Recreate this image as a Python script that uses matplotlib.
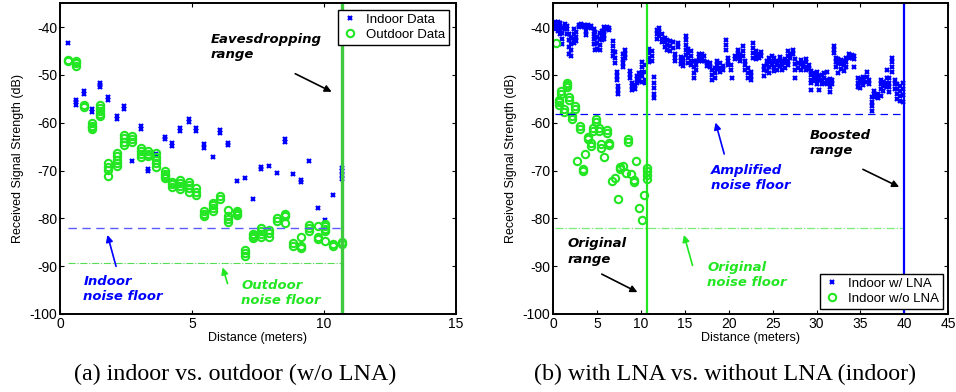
import matplotlib
matplotlib.use('Agg')
import matplotlib.pyplot as plt

plt.rcParams['font.family'] = ['Liberation Sans', 'DejaVu Sans']
plt.rcParams['axes.unicode_minus'] = False

# (distance m, [rss dB ...]) per measurement spot
indoor = [
    (0.32, [-43.4]), (0.62, [-55.2, -55.7, -56.3]), (0.92, [-53.4, -53.9]),
    (1.23, [-57.2, -57.8]), (1.53, [-51.8, -52.2, -52.6]), (1.83, [-54.7, -55.3]),
    (2.14, [-58.6, -59.2]), (2.44, [-56.5, -57.1]), (2.74, [-68.0]),
    (3.05, [-60.7, -61.3]), (3.35, [-69.7, -70.2]), (3.65, [-66.6]),
    (3.96, [-62.9, -63.4]), (4.26, [-64.2, -64.8]), (4.56, [-61.2, -61.8]),
    (4.87, [-59.2, -59.8]), (5.17, [-61.2, -61.8]), (5.47, [-64.5, -65.2]),
    (5.78, [-67.1]), (6.08, [-61.5, -62.2]), (6.38, [-64.2, -64.7]),
    (6.70, [-72.2]), (7.01, [-71.5]), (7.33, [-75.9]), (7.62, [-69.2, -69.7]),
    (7.92, [-69.0]), (8.23, [-70.5]), (8.53, [-63.5, -64.1]), (8.83, [-70.7]),
    (9.14, [-72.0, -72.5]), (9.45, [-68.0]), (9.76, [-77.9]), (10.06, [-80.3]),
    (10.36, [-75.2]), (10.67, [-69.4, -70.2, -71.0, -71.8]),
]

outdoor = [
    (0.32, [-46.8, -47.1]), (0.62, [-47.1, -47.6, -48.1]), (0.92, [-56.3, -56.7]),
    (1.23, [-60.1, -60.6, -61.0, -61.4]), (1.53, [-56.3, -56.9, -57.6, -58.2, -58.7]),
    (1.83, [-68.5, -69.2, -69.9, -71.1]), (2.14, [-66.4, -67.0, -67.7, -68.4, -69.0]),
    (2.44, [-62.5, -63.2, -64.0, -64.6]), (2.74, [-62.8, -63.4, -64.0]),
    (3.05, [-65.3, -65.9, -66.5, -67.1]), (3.35, [-66.0, -66.5, -66.9]),
    (3.65, [-66.4, -67.1, -67.8, -68.5, -69.2]), (3.96, [-70.2, -70.7, -71.2, -71.6]),
    (4.26, [-72.3, -72.9, -73.5]), (4.56, [-72.0, -72.6, -73.3, -73.9]),
    (4.87, [-72.3, -73.0, -73.7, -74.4]), (5.17, [-73.7, -74.4, -75.1]),
    (5.47, [-78.4, -79.0, -79.6]), (5.78, [-76.7, -77.3, -77.9, -78.4]),
    (6.08, [-75.3, -75.9]), (6.38, [-78.3, -79.5, -80.2, -80.8]),
    (6.70, [-78.4, -78.9, -79.3]), (7.01, [-86.7, -87.2, -87.8]),
    (7.33, [-83.2, -83.7, -84.1]), (7.62, [-82.0, -82.6, -83.2, -83.8]),
    (7.92, [-82.4, -83.1, -83.8]), (8.23, [-80.0, -80.6]),
    (8.53, [-79.1, -79.6, -80.9]), (8.83, [-85.2, -85.7]),
    (9.14, [-83.8, -85.8, -86.2]), (9.45, [-81.3, -82.0, -82.7]),
    (9.76, [-81.7, -83.9, -84.3]), (10.06, [-81.1, -81.7, -82.2, -82.7, -84.8]),
    (10.36, [-85.3, -85.7]), (10.67, [-85.0, -85.4]),
]

with_lna = [
    (0.2, [-38.9, -39.3, -39.8, -40.4]), (0.5, [-39.0, -39.5, -40.1, -40.9]),
    (0.8, [-39.2, -39.8, -40.6, -41.5]), (1.0, [-40.2, -41.3, -42.4, -43.6]),
    (1.3, [-39.4, -39.9, -40.5]), (1.6, [-39.8, -40.5, -41.4]),
    (1.8, [-41.5, -42.8, -44.2, -45.6]), (2.0, [-42.3, -43.6, -44.8, -46.0]),
    (2.3, [-40.5, -41.5, -42.6, -43.4]), (2.6, [-41.0, -42.0, -43.0]),
    (2.9, [-39.5, -39.9]), (3.2, [-39.4, -39.8]), (3.5, [-39.6, -40.0]),
    (3.7, [-40.8, -41.6]), (4.0, [-39.5, -40.0]), (4.3, [-39.7, -40.2]),
    (4.6, [-40.5, -41.4, -42.5, -43.6]), (4.8, [-41.0, -42.2, -43.6, -44.8]),
    (5.0, [-42.0, -43.3, -44.5]), (5.3, [-41.2, -42.4, -43.7, -44.7]),
    (5.5, [-40.8, -41.7, -42.8]), (5.8, [-40.0, -40.8, -41.6, -42.4]),
    (6.1, [-40.0, -40.5]), (6.4, [-40.2, -40.7]),
    (6.8, [-43.0, -44.0, -45.0, -46.0]), (7.0, [-45.2, -46.4, -47.6]),
    (7.2, [-49.5, -50.2, -51.0]), (7.4, [-52.4, -53.2, -54.0]),
    (7.9, [-45.6, -46.6, -47.6, -48.3]), (8.2, [-44.8, -45.6, -46.4]),
    (8.7, [-49.2, -49.9, -50.6]), (9.0, [-51.6, -52.4, -53.2]),
    (9.3, [-52.2, -52.9]), (9.5, [-50.2, -50.9, -51.6]),
    (9.8, [-49.6, -50.4, -51.2]), (10.1, [-47.3, -48.3, -49.3, -50.3, -51.4]),
    (10.4, [-48.0, -49.5, -51.0, -51.8]), (10.9, [-44.6, -45.5, -46.5, -47.4]),
    (11.2, [-45.0, -46.0, -47.0]), (11.5, [-50.5, -51.6, -52.8, -54.0, -54.8]),
    (11.8, [-40.6, -41.5, -42.5]), (12.1, [-40.3, -41.0, -41.8]),
    (12.4, [-41.4, -42.4, -43.2]), (12.7, [-42.2, -43.2, -44.2]),
    (13.0, [-42.8, -43.8, -44.8]), (13.3, [-43.0, -44.0, -45.0]),
    (13.6, [-43.2, -44.3]), (13.9, [-45.6, -46.4, -47.2]),
    (14.2, [-43.4, -44.2]), (14.5, [-46.2, -47.0, -47.8]),
    (14.8, [-46.4, -47.3, -48.2]), (15.1, [-41.8, -42.8, -43.8, -44.8, -45.8]),
    (15.4, [-44.6, -45.5, -46.5, -47.5]), (15.7, [-45.0, -46.0, -47.0, -48.0]),
    (16.0, [-47.2, -48.4, -49.6, -50.6]), (16.3, [-47.0, -48.0, -49.0]),
    (16.6, [-45.6, -46.3, -47.0]), (16.9, [-45.6, -46.5, -47.2]),
    (17.2, [-46.0, -47.0]), (17.5, [-47.4, -48.2]), (17.8, [-47.5, -48.4]),
    (18.1, [-49.0, -50.0, -51.0]), (18.4, [-48.6, -49.6, -50.6]),
    (18.7, [-47.2, -48.0, -48.8]), (19.0, [-47.6, -48.5, -49.3]),
    (19.3, [-48.2, -49.0]), (19.7, [-42.8, -43.8, -44.8]),
    (19.9, [-46.4, -47.2, -48.0]), (20.2, [-48.0, -49.0]), (20.4, [-50.7]),
    (20.7, [-46.0, -46.7]), (21.0, [-44.8, -45.6, -46.4]),
    (21.3, [-45.8, -46.6, -47.2]), (21.6, [-44.0, -45.0, -46.0]),
    (21.9, [-47.0, -48.0, -49.0]), (22.2, [-48.6, -49.6, -50.6]),
    (22.5, [-49.4, -50.2, -51.0]), (22.8, [-43.4, -44.4, -45.4, -46.4]),
    (23.1, [-45.0, -45.8, -46.6]), (23.4, [-45.6, -46.5]), (23.7, [-45.2, -46.0]),
    (24.0, [-48.2, -49.0, -50.2]), (24.3, [-47.0, -48.0, -49.2]),
    (24.6, [-46.4, -47.4, -48.4, -49.6]), (24.9, [-46.0, -47.0, -48.0]),
    (25.2, [-46.4, -47.4, -48.4, -49.2]), (25.5, [-47.0, -48.0, -49.0]),
    (25.8, [-46.2, -47.2, -48.2]), (26.1, [-47.0, -48.0, -49.0]),
    (26.4, [-46.6, -47.6, -48.6]), (26.7, [-45.0, -46.0, -47.0, -48.0]),
    (27.0, [-45.6, -46.5]), (27.3, [-44.8, -45.6]),
    (27.6, [-46.6, -47.8, -49.0, -50.6]), (27.9, [-47.6, -48.6]),
    (28.2, [-46.8, -47.8, -49.0]), (28.5, [-47.6, -48.4]),
    (28.8, [-46.6, -47.4, -48.4, -49.0]), (29.1, [-48.0, -48.8]),
    (29.4, [-49.2, -50.0, -51.0, -51.8, -53.2]), (29.7, [-49.6, -50.4, -51.2]),
    (30.0, [-49.4, -50.2, -51.0, -52.0]), (30.3, [-50.2, -51.0, -53.2]),
    (30.6, [-50.0, -51.0, -52.0]), (30.9, [-49.6, -50.6, -51.6]),
    (31.2, [-49.3, -51.0, -52.0]), (31.5, [-50.8, -51.8, -52.6, -53.5]),
    (31.8, [-51.0, -52.0]), (32.0, [-44.0, -44.8, -45.4]),
    (32.2, [-46.4, -47.4, -48.4]), (32.5, [-46.6, -47.6, -49.7]),
    (32.8, [-46.8, -47.8, -48.8]), (33.1, [-47.0, -48.0, -49.2]),
    (33.4, [-46.4, -47.4, -48.4]), (33.7, [-45.6, -46.4]), (34.0, [-45.8, -46.5]),
    (34.3, [-46.0, -46.6, -48.3]), (34.7, [-50.6, -51.6, -52.6]),
    (35.0, [-50.8, -51.8, -52.8]), (35.3, [-50.4, -51.2, -52.2]),
    (35.7, [-49.4, -50.4, -51.4]), (36.0, [-51.0, -52.0]),
    (36.3, [-54.6, -55.6, -56.6, -57.6]), (36.6, [-53.4, -54.0, -54.6]),
    (37.0, [-54.0, -54.8]), (37.3, [-51.0, -52.0, -53.0, -54.4]),
    (37.6, [-51.4, -52.4, -53.4]), (38.0, [-49.0, -50.6, -51.6, -52.6]),
    (38.3, [-50.6, -51.6, -52.6, -53.6]), (38.6, [-46.4, -47.4, -48.4, -49.4]),
    (38.9, [-51.0, -52.0, -53.0]), (39.2, [-52.0, -53.0, -54.0, -55.0]),
    (39.5, [-52.4, -53.4, -54.4, -55.4]), (39.8, [-51.8, -53.0, -54.2, -55.6]),
]

indoor_floor = -82.0
outdoor_floor = -89.3
amplified_floor = -58.2
original_floor = -82.0
eaves_range = 10.67
boosted_range = 40.0


def flat(spots):
    xs, ys = [], []
    for d, vals in spots:
        for v in vals:
            xs.append(d)
            ys.append(v)
    return xs, ys


BLUE = '#0000ff'
GREEN = '#22e622'
bi = dict(fontsize=9.5, fontweight='bold', fontstyle='italic', family='DejaVu Sans',
          va='top', linespacing=1.25)


def style(ax, xmax, xticks):
    ax.set_xlim(0, xmax)
    ax.set_ylim(-100, -35)
    ax.set_xticks(xticks)
    ax.set_yticks([-100, -90, -80, -70, -60, -50, -40])
    ax.tick_params(direction='in', top=True, right=True, labelsize=10, length=3, pad=2)
    for s in ax.spines.values():
        s.set_linewidth(1.4)
    ax.set_xlabel('Distance (meters)', fontsize=9, labelpad=1)
    ax.set_ylabel('Received Signal Strength (dB)', fontsize=9, labelpad=4)


fig = plt.figure(figsize=(9.56, 3.92), dpi=100)

# ---- (a)
ax = fig.add_axes([0.0628, 0.199, 0.414, 0.793])
x, y = flat(indoor)
ax.plot(x, y, 'x', color=BLUE, ms=3.5, mew=1.6, label='Indoor Data')
x, y = flat(outdoor)
ax.plot(x, y, 'o', mfc='none', mec=GREEN, ms=5.3, mew=1.5, label='Outdoor Data')
ax.plot([0.3, eaves_range], [indoor_floor] * 2, '--', color='#5a5aff', lw=1.0, dashes=(6, 4))
ax.plot([0.3, eaves_range], [outdoor_floor] * 2, '-.', color='#55dd55', lw=0.8)
ax.axvline(eaves_range, color='#3ec93e', lw=2.4)
ax.text(5.72, -41.2, 'Eavesdropping\nrange', color='black', **bi)
ax.annotate('', xy=(10.39, -53.8), xytext=(8.82, -49.5),
            arrowprops=dict(arrowstyle='-|>', color='black', lw=1.2, mutation_scale=10))
ax.text(0.88, -91.8, 'Indoor\nnoise floor', color=BLUE, **bi)
ax.annotate('', xy=(1.77, -82.9), xytext=(2.15, -90.6),
            arrowprops=dict(arrowstyle='-|>', color=BLUE, lw=1.2, mutation_scale=10))
ax.text(6.86, -92.6, 'Outdoor\nnoise floor', color=GREEN, **bi)
ax.annotate('', xy=(6.13, -89.7), xytext=(6.38, -94.2),
            arrowprops=dict(arrowstyle='-|>', color=GREEN, lw=1.2, mutation_scale=10))
style(ax, 15, [0, 5, 10, 15])
leg = ax.legend(loc='upper right', fontsize=9.5, handlelength=1.2, handletextpad=0.6,
                borderpad=0.3, labelspacing=0.2, fancybox=False, framealpha=1,
                edgecolor='black', borderaxespad=0.5)
leg.get_frame().set_linewidth(1.0)

# ---- (b)
ax = fig.add_axes([0.5788, 0.199, 0.413, 0.793])
x, y = flat(with_lna)
ax.plot(x, y, 'x', color=BLUE, ms=3.5, mew=1.6, label='Indoor w/ LNA')
x, y = flat(indoor)
ax.plot(x, y, 'o', mfc='none', mec=GREEN, ms=5.3, mew=1.5, label='Indoor w/o LNA')
ax.plot([0.2, 39.7], [amplified_floor] * 2, '--', color=BLUE, lw=0.9, dashes=(6, 4))
ax.plot([0.2, 39.7], [original_floor] * 2, '-.', color='#77ee77', lw=0.9)
ax.axvline(eaves_range, color=GREEN, lw=1.6)
ax.axvline(boosted_range, color=BLUE, lw=1.6)
ax.text(17.96, -68.6, 'Amplified\nnoise floor', color=BLUE, **bi)
ax.annotate('', xy=(18.4, -59.4), xytext=(19.56, -67.1),
            arrowprops=dict(arrowstyle='-|>', color=BLUE, lw=1.2, mutation_scale=10))
ax.text(29.2, -61.3, 'Boosted\nrange', color='black', **bi)
ax.annotate('', xy=(39.7, -73.7), xytext=(35.0, -69.5),
            arrowprops=dict(arrowstyle='-|>', color='black', lw=1.2, mutation_scale=10))
ax.text(1.6, -84.0, 'Original\nrange', color='black', **bi)
ax.annotate('', xy=(9.87, -95.7), xytext=(5.24, -91.4),
            arrowprops=dict(arrowstyle='-|>', color='black', lw=1.2, mutation_scale=10))
ax.text(17.55, -88.9, 'Original\nnoise floor', color=GREEN, **bi)
ax.annotate('', xy=(14.8, -82.9), xytext=(15.95, -90.4),
            arrowprops=dict(arrowstyle='-|>', color=GREEN, lw=1.2, mutation_scale=10))
style(ax, 45, list(range(0, 46, 5)))
leg = ax.legend(loc='lower right', fontsize=9.5, handlelength=1.2, handletextpad=0.6,
                borderpad=0.3, labelspacing=0.2, fancybox=False, framealpha=1,
                edgecolor='black', borderaxespad=0.4)
leg.get_frame().set_linewidth(1.0)

fig.text(0.2463, 0.046, '(a) indoor vs. outdoor (w/o LNA)', ha='center', va='center',
         fontsize=17.3, family='Liberation Serif')
fig.text(0.758, 0.046, '(b) with LNA vs. without LNA (indoor)', ha='center', va='center',
         fontsize=17.3, family='Liberation Serif')

fig.savefig('out.png', dpi=100)
